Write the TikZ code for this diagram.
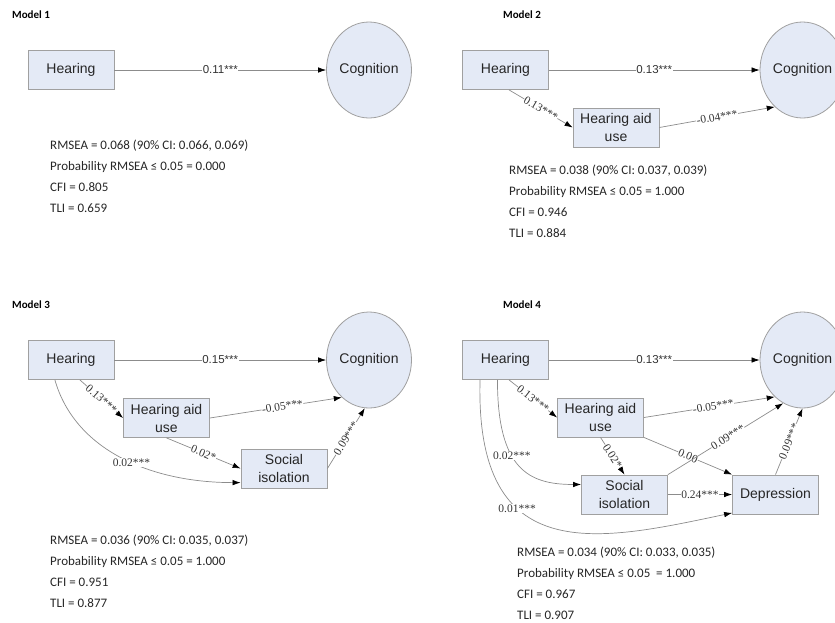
\documentclass[tikz,border=0pt]{standalone}
\usepackage{fontspec}
\setmainfont{Liberation Sans}
\newfontfamily\statfont{Carlito}
\newfontfamily\coeffont{Liberation Serif}
\usetikzlibrary{shapes.geometric, arrows.meta}
\definecolor{boxfill}{RGB}{228,234,246}
\definecolor{boxline}{RGB}{160,160,160}
\definecolor{pathline}{RGB}{140,140,140}

\begin{document}
\begin{tikzpicture}[x=1pt, y=-1pt,
	observed/.style={shape=rectangle, draw=boxline, fill=boxfill, line width=0.8pt, minimum width=86pt, minimum height=39pt, inner sep=0pt, align=center, font=\fontsize{14}{18}\selectfont, text=black!85},
	latent/.style={shape=ellipse, draw=boxline, fill=boxfill, line width=0.8pt, minimum width=85pt, minimum height=96pt, inner sep=0pt, font=\fontsize{14}{18}\selectfont, text=black!85},
	effect/.style={draw=pathline, line width=0.7pt, -{Latex[length=8pt, width=5.5pt, color=black]}},
	coef/.style={font=\coeffont\fontsize{11.5}{12}\selectfont, fill=white, inner sep=0.5pt, text=black!80},
	coefsans/.style={font=\fontsize{11.5}{12}\selectfont, fill=white, inner sep=0.5pt, text=black!80},
	modeltitle/.style={font=\statfont\bfseries\fontsize{11}{12}\selectfont, anchor=base west, inner sep=0pt},
	fitstats/.style={font=\statfont\fontsize{13}{21}\selectfont, anchor=north west, align=left, inner sep=0pt, text=black!85}]
	\useasboundingbox (0,0) rectangle (835,622);
	% Model 1:
	\node[modeltitle] (t1) at (12,18) {Model 1};
	\node[observed] (h1) at (71,70) {Hearing};
	\node[latent] (c1) at (369,70) {Cognition};
	\draw[effect] (h1) -- node[coefsans] {0.11***} (c1);
	\node[fitstats] (f1) at (50,140) {RMSEA = 0.068 (90\% CI: 0.066, 0.069)\\Probability RMSEA ≤ 0.05 = 0.000\\CFI = 0.805\\TLI = 0.659};
	% Model 2:
	\node[modeltitle] (t2) at (503,18) {Model 2};
	\node[observed] (h2) at (505.5,70) {Hearing};
	\node[observed] (a2) at (616,127.5) {Hearing aid\\use};
	\node[latent] (c2) at (802.5,70) {Cognition};
	\draw[effect] (h2) -- node[coefsans] {0.13***} (c2);
	\draw[effect] (h2.-80) -- node[coef, sloped] {0.13***} (a2.west);
	\draw[effect] (a2.east) -- node[coef, sloped] {-0.04***} (c2.-127);
	\node[fitstats] (f2) at (509,165) {RMSEA = 0.038 (90\% CI: 0.037, 0.039)\\Probability RMSEA ≤ 0.05 = 1.000\\CFI = 0.946\\TLI = 0.884};
	% Model 3:
	\node[modeltitle] (t3) at (12,308) {Model 3};
	\node[observed] (h3) at (71,360) {Hearing};
	\node[observed] (a3) at (166.5,418) {Hearing aid\\use};
	\node[observed] (s3) at (284,468.5) {Social\\isolation};
	\node[latent] (c3) at (369,360) {Cognition};
	\draw[effect] (h3) -- node[coefsans] {0.15***} (c3);
	\draw[effect] (h3.-66) -- node[coef, sloped] {0.13***} (a3.west);
	\draw[effect] (a3.east) -- node[coef, sloped, pos=0.55] {-0.05***} (c3.-126);
	\draw[effect] (a3.south) -- node[coef, sloped] {0.02*} (s3.west);
	\draw[effect] (s3.east) -- node[coef, sloped] {0.09***} (c3.-95);
	\draw[effect] (h3.-129) .. controls +(20,70) and +(-90,0) .. node[coef, pos=0.55] {0.02***} (s3.198);
	\node[fitstats] (f3) at (50,535) {RMSEA = 0.036 (90\% CI: 0.035, 0.037)\\Probability RMSEA ≤ 0.05 = 1.000\\CFI = 0.951\\TLI = 0.877};
	% Model 4:
	\node[modeltitle] (t4) at (503,308) {Model 4};
	\node[observed] (h4) at (505.5,360) {Hearing};
	\node[observed] (a4) at (600.5,417.5) {Hearing aid\\use};
	\node[observed] (s4) at (624.5,494.5) {Social\\isolation};
	\node[observed] (d4) at (775.5,494.5) {Depression};
	\node[latent] (c4) at (802.5,360) {Cognition};
	\draw[effect] (h4) -- node[coefsans] {0.13***} (c4);
	\draw[effect] (h4.-80) -- node[coef, sloped] {0.13***} (a4.west);
	\draw[effect] (a4.east) -- node[coef, sloped, pos=0.53] {-0.05***} (c4.-127);
	\draw[effect] (a4.south) -- node[coef, sloped] {0.02*} (s4.north);
	\draw[effect] (a4.south east) -- node[coef, sloped] {0.00} (d4.north west);
	\draw[effect] (s4.north east) -- node[coef, sloped, pos=0.52] {0.09***} (c4.-114);
	\draw[effect] (s4.east) -- node[coef] {0.24***} (d4.west);
	\draw[effect] (d4.north) -- node[coef, sloped] {0.09***} (c4.south);
	\draw[effect] (h4.-112) .. controls +(0,90) and +(-52,0) .. node[coef, pos=0.4] {0.02***} (s4.167);
	\draw[effect] (h4.-142) .. controls +(-5,190) and +(-132.5,28) .. node[coef, pos=0.35] {0.01***} (d4.203);
	\node[fitstats] (f4) at (517,547) {RMSEA = 0.034 (90\% CI: 0.033, 0.035)\\Probability RMSEA ≤ 0.05 \ = 1.000\\CFI = 0.967\\TLI = 0.907};
\end{tikzpicture}
\end{document}
